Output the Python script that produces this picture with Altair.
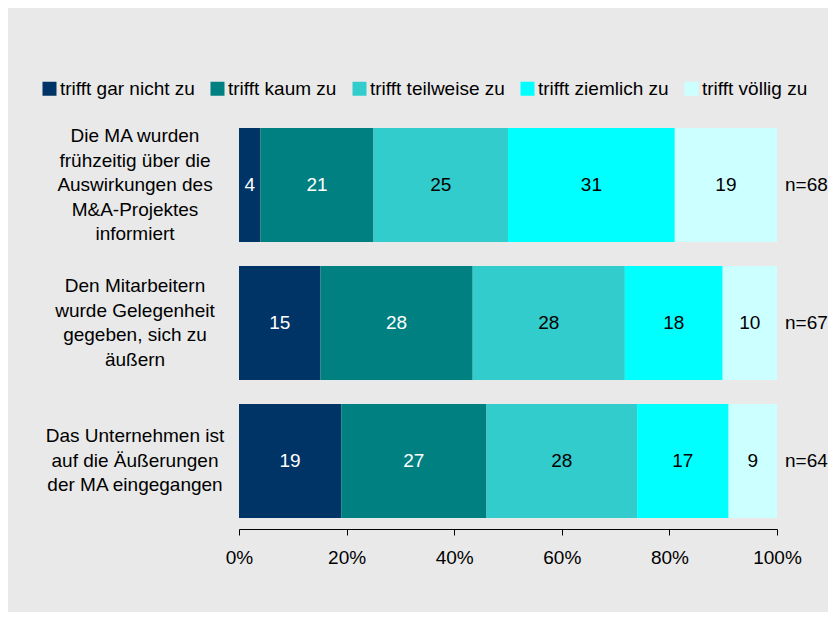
import altair as alt
import pandas as pd

items = [
    "Die MA wurden\nfrühzeitig über die\nAuswirkungen des\nM&A-Projektes\ninformiert",
    "Den Mitarbeitern\nwurde Gelegenheit\ngegeben, sich zu\näußern",
    "Das Unternehmen ist\nauf die Äußerungen\nder MA eingegangen",
]
n_labels = ["n=68", "n=67", "n=64"]
categories = ["trifft gar nicht zu", "trifft kaum zu", "trifft teilweise zu",
              "trifft ziemlich zu", "trifft völlig zu"]
colors = ["#003366", "#008080", "#33CCCC", "#00FFFF", "#CCFFFF"]
row1 = [4, 21, 25, 31, 19]
row2 = [15, 28, 28, 18, 10]
row3 = [19, 27, 28, 17, 9]
tick_values = [0, 0.2, 0.4, 0.6, 0.8, 1.0]

rows = []
for item, vals in zip(items, [row1, row2, row3]):
    for k, (c, v) in enumerate(zip(categories, vals)):
        rows.append(dict(item=item, cat=c, k=k, value=v))
df = pd.DataFrame(rows)
ndf = pd.DataFrame(dict(item=items, n=n_labels))

FONT = "Liberation Sans"
FS = 19
LH = 24.5
HALF_BAND = 57

yenc = alt.Y("item:N", sort=items, axis=None,
             scale=alt.Scale(paddingInner=0.174, paddingOuter=0.08))

base = alt.Chart(df).transform_stack(
    stack="value", groupby=["item"], as_=["x0", "x1"], offset="normalize",
    sort=[alt.SortField("k", order="ascending")]
).transform_calculate(xm="(datum.x0 + datum.x1) / 2")

bars = base.mark_bar().encode(
    x=alt.X("x0:Q", scale=alt.Scale(domain=[0, 1], nice=False),
            axis=alt.Axis(format="%", values=tick_values, domainColor="black",
                          tickColor="black", tickSize=6, labelFontSize=FS,
                          labelFont=FONT, labelColor="black", labelPadding=13,
                          grid=False, title=None, labelFlush=False)),
    x2="x1:Q",
    y=yenc,
    color=alt.Color("cat:N", scale=alt.Scale(domain=categories, range=colors),
                    legend=alt.Legend(orient="none", legendX=-199, legendY=-38,
                                      direction="horizontal", columns=5,
                                      symbolType="square", symbolSize=196,
                                      symbolStrokeWidth=0, labelFontSize=FS,
                                      labelFont=FONT, labelColor="black",
                                      labelOffset=1, columnPadding=13,
                                      padding=0, title=None)),
)

seg_text = base.mark_text(font=FONT, fontSize=FS).encode(
    x="xm:Q",
    y=yenc,
    text="value:Q",
    color=alt.condition("datum.k < 2", alt.value("white"), alt.value("black")),
)

n_text = alt.Chart(ndf).mark_text(font=FONT, fontSize=FS, align="left", dx=8,
                                  color="black").encode(
    x=alt.datum(1), y=yenc, text="n:N")

row_text = alt.Chart(ndf).transform_calculate(
    off=f"{HALF_BAND} - (split(datum.item, '\\n').length - 1) / 2 * {LH}"
).mark_text(font=FONT, fontSize=FS, align="center", baseline="middle",
            lineBreak="\n", lineHeight=LH, dx=-104, color="black").encode(
    x=alt.datum(0), y=yenc, yOffset=alt.YOffset("off:Q", scale=None),
    text="item:N")

chart = alt.layer(bars, seg_text, n_text, row_text).properties(
    width=538, height=412,
    padding={"left": 231, "top": 109, "right": 51, "bottom": 83},
    autosize=alt.AutoSizeParams(type="none"),
    background="#e9e9e9",
).configure_view(stroke=None)

chart.save("out.html", embed_options={"renderer": "svg", "actions": False})
